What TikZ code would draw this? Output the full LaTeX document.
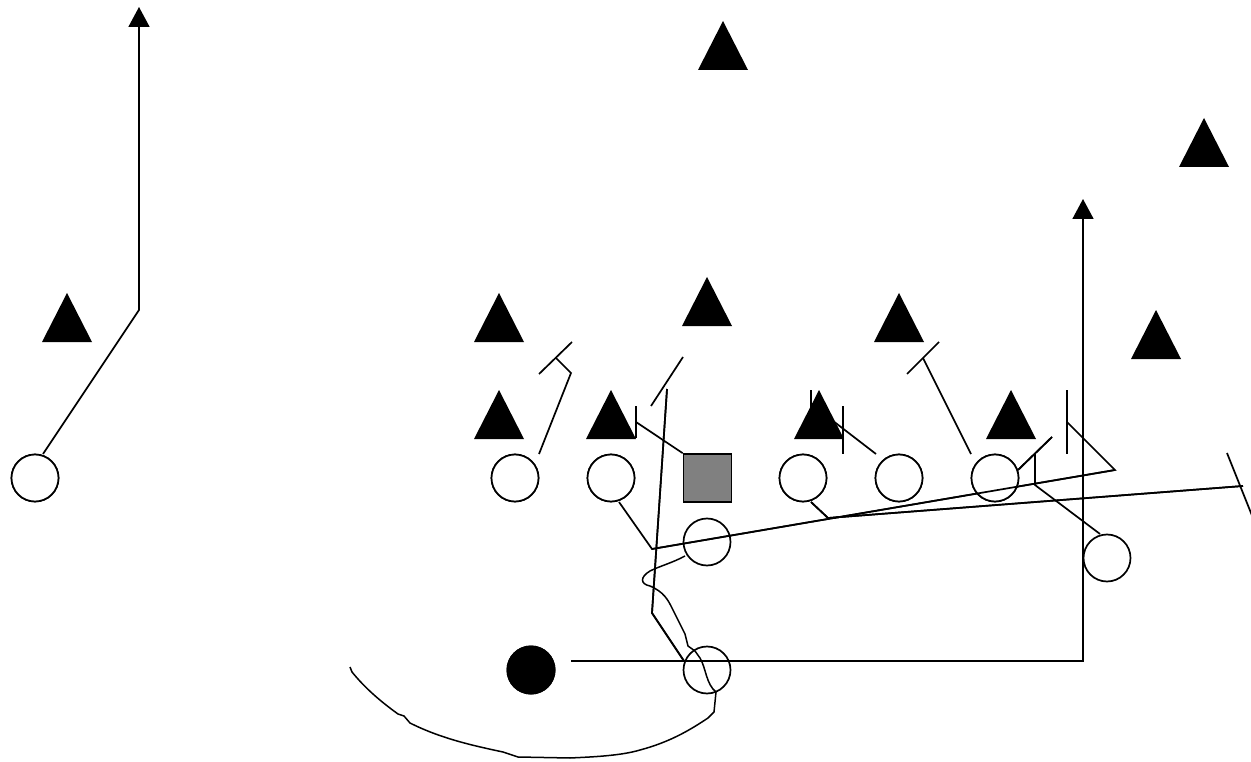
\documentclass[tikz,border=0pt]{standalone}
\usetikzlibrary{arrows.meta,calc}
\tikzset{
  player/.style={circle,draw=black,fill=white,line width=1.7pt,minimum size=47pt,inner sep=0pt},
  ballcarrier/.style={circle,fill=black,minimum size=49pt,inner sep=0pt},
  center/.style={rectangle,draw=black,fill=gray50,line width=1.7pt,minimum size=48pt,inner sep=0pt},
  route/.style={line width=1.7pt,line join=miter},
  runarrow/.style={route,-{Triangle[width=21pt,length=20pt]}},
  defender/.pic={\fill[black] (0,0) -- (25,49) -- (-25,49) -- cycle;}
}
\definecolor{gray50}{RGB}{128,128,128}
\begin{document}
\begin{tikzpicture}[x=1pt,y=-1pt]
\useasboundingbox (0,0) rectangle (1251,762);
% players
\node[player] (p1) at (35,478) {};
\node[player] (p2) at (515,478) {};
\node[player] (p3) at (611,478) {};
\node[center] (ctr) at (707.5,478) {};
\node[player] (p4) at (803,478) {};
\node[player] (p5) at (899,478) {};
\node[player] (p6) at (995,478) {};
\node[player] (qb) at (707,542) {};
\node[player] (te) at (1107,558) {};
\node[player] (rb) at (707,670) {};
\node[ballcarrier] (ball) at (531,670) {};

\coordinate (a1) at (139,310);
\coordinate (a1t) at (139,7);
\draw[runarrow] ($(p1)+(8,-24)$) -- (a1) -- (a1t);

\draw[route] ($(p2)+(24,-24)$) -- (571,373) -- (556,358);
\draw[route] (539,374) -- (572,342);

\draw[route] ($(p3)+(8,24)$) -- (652,549) -- (1115,470) -- (1067,422);
\draw[route] (1067,390) -- (1067,454);

\draw[route] (ctr.north west) -- (636,422);
\draw[route] (636,406) -- (636,438);

\draw[route] ($(p4)+(8,24)$) -- (828,518) -- (1243,486);
\draw[route] (1227,453) -- (1253,518);

\draw[route] ($(p5)+(-23,-24)$) -- (811,404);
\draw[route] (811,390) -- (811,438);
\draw[route] (843,406) -- (843,454);

\draw[route] ($(p6)+(-24,-24)$) -- (923,358);
\draw[route] (907,374) -- (939,342);
\draw[route] ($(p6)+(23,-8)$) -- (1052,437);

\draw[route] ($(te)+(-7,-24)$) -- (1035,485) -- (1035,453);

\draw[route] ($(rb)+(-23,-9)$) -- (652,613) -- (667,389);
\draw[route] (651,406) -- (683,357);

\coordinate (a2) at (1083,661);
\coordinate (a2t) at (1083,199);
\draw[runarrow] ($(ball)+(40,-9)$) -- (a2) -- (a2t);

\draw[line width=1.5pt] ($(qb)+(-22,14)$) .. controls (672,563) and (660,566) .. (650,571)
  .. controls (640,577) and (640,584) .. (650,586)
  .. controls (664,592) and (668,600) .. (672,608)
  -- (685,634) -- (688,646) -- (695,651) -- (700,658)
  .. controls (706,668) and (706,684) .. (716,692)
  -- (714,712) -- (708,718)
  .. controls (690,730) and (670,742) .. (640,750)
  .. controls (620,756) and (590,757) .. (570,758)
  -- (518,757) -- (503,752)
  .. controls (470,745) and (440,738) .. (410,723)
  -- (404,716) -- (398,714)
  .. controls (380,701) and (365,688) .. (352,672) -- (350,667);

% players again on top of routes
\node[player] at (p1) {};
\node[player] at (p2) {};
\node[player] at (p3) {};
\node[center] at (ctr) {};
\node[player] at (p4) {};
\node[player] at (p5) {};
\node[player] at (p6) {};
\node[ballcarrier] at (ball) {};

% routes that pass over players
\draw[route] (652,549) -- (1115,470);
\draw[route] ($(p4)+(8,24)$) -- (828,518) -- (1243,486);
\draw[route] ($(rb)+(-23,-9)$) -- (652,613) -- (667,389);
\draw[route] ($(p6)+(23,-8)$) -- (1052,437);
\draw[route] (1035,485) -- (1035,453);

% defenders
\pic at (723,21) {defender};
\pic at (1204,118) {defender};
\pic at (67,293) {defender};
\pic at (499,293) {defender};
\pic at (707,277) {defender};
\pic at (899,293) {defender};
\pic at (1156,310) {defender};
\pic at (499,390) {defender};
\pic at (611,390) {defender};
\pic at (819,390) {defender};
\pic at (1011,390) {defender};
\end{tikzpicture}
\end{document}
